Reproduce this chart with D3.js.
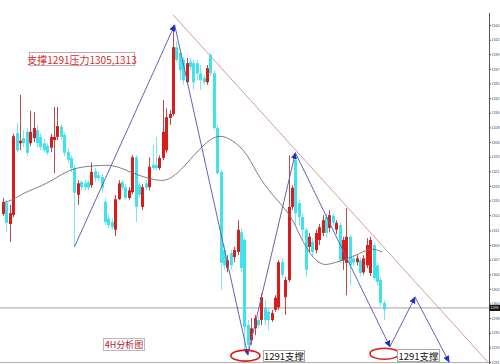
<!DOCTYPE html>
<html>
<head>
<meta charset="utf-8">
<script src="https://cdn.jsdelivr.net/npm/d3@7"></script>
<style>
body { margin: 0; background: #fff; }
svg { display: block; }
</style>
</head>
<body>
<div id="chart"></div>
<script>
// 4H candles
var opens = [1314.3,1316.0,1312.7,1314.1,1327.0,1325.4,1326.2,1327.2,1325.4,1326.2,1327.5,1326.4,1325.4,1325.0,1324.7,1325.9,1326.4,1328.0,1326.7,1324.0,
	1323.1,1321.5,1317.3,1319.3,1319.1,1319.3,1318.8,1321.0,1320.4,1320.1,1316.2,1313.6,1313.0,1311.8,1316.6,1319.3,1318.5,1316.8,1317.7,1323.2,
	1318.8,1315.4,1319.1,1318.5,1322.0,1322.0,1321.5,1323.1,1324.3,1329.4,1330.0,1340.5,1339.6,1338.5,1335.0,1338.2,1338.0,1338.0,1336.4,1335.7,
	1335.0,1339.3,1336.4,1327.8,1320.9,1308.6,1305.8,1308.1,1307.5,1308.3,1311.4,1310.2,1296.8,1294.4,1296.3,1297.6,1297.6,1299.6,1298.9,1297.6,
	1299.2,1299.6,1306.7,1301.2,1303.9,1315.4,1322.8,1316.0,1313.8,1311.8,1309.1,1309.9,1308.6,1310.2,1311.3,1313.8,1312.1,1314.0,1311.8,1312.5,
	1307.0,1306.6,1310.7,1307.3,1306.7,1307.0,1305.1,1306.2,1305.0,1309.4,1306.2,1303.9,1300.3];
var highs = [1316.8,1316.5,1315.7,1326.9,1328.6,1333.0,1327.5,1327.8,1330.5,1330.3,1328.3,1327.0,1326.2,1325.4,1326.9,1331.1,1331.1,1328.4,1327.2,1324.7,
	1323.5,1322.0,1319.6,1319.6,1319.6,1319.6,1322.4,1321.5,1320.9,1320.6,1316.8,1314.3,1313.6,1317.3,1319.6,1319.6,1319.0,1318.5,1323.5,1323.5,
	1319.3,1319.0,1319.6,1323.2,1325.1,1326.4,1323.5,1332.2,1330.9,1330.6,1344.0,1341.5,1340.1,1339.0,1338.8,1338.8,1338.5,1338.5,1337.7,1336.1,
	1337.7,1339.6,1336.9,1328.3,1321.2,1309.4,1307.8,1308.6,1309.1,1313.3,1312.1,1310.5,1297.6,1297.9,1298.4,1298.2,1301.8,1300.7,1299.5,1299.2,
	1301.5,1307.0,1307.3,1304.4,1323.5,1318.8,1323.9,1316.5,1314.4,1312.1,1311.3,1310.5,1311.8,1312.7,1314.1,1314.4,1314.9,1314.4,1313.3,1313.0,
	1310.7,1315.2,1311.0,1307.8,1307.8,1307.5,1307.8,1310.5,1310.7,1309.7,1306.7,1304.4,1300.7];
var lows = [1314.0,1311.4,1309.9,1313.8,1324.0,1324.3,1324.8,1323.4,1325.0,1325.6,1324.7,1324.3,1323.9,1323.5,1324.0,1320.7,1325.9,1325.9,1323.4,1322.3,
	1320.9,1309.1,1315.7,1318.0,1318.0,1318.0,1318.4,1319.3,1319.5,1317.7,1312.5,1312.1,1311.8,1310.8,1316.5,1318.0,1316.5,1316.5,1317.4,1313.0,
	1316.8,1314.9,1318.0,1318.0,1321.2,1321.2,1321.2,1322.8,1323.9,1328.3,1329.7,1338.2,1335.3,1334.6,1334.6,1336.9,1333.8,1335.3,1333.8,1334.6,
	1334.6,1336.0,1327.5,1320.4,1302.3,1305.5,1305.1,1305.5,1306.7,1307.8,1305.1,1292.9,1292.1,1293.7,1295.2,1296.3,1296.8,1296.8,1296.0,1297.3,
	1298.9,1299.2,1304.2,1298.4,1303.6,1314.9,1312.5,1312.5,1310.2,1304.4,1308.3,1307.7,1308.1,1309.4,1310.8,1310.5,1311.4,1312.5,1311.1,1306.6,
	1305.5,1301.5,1303.1,1306.1,1306.2,1304.5,1304.7,1305.8,1304.5,1303.9,1303.1,1299.8,1297.6];
var closes = [1316.2,1312.9,1314.4,1326.5,1324.3,1325.8,1325.4,1323.9,1327.2,1327.8,1325.4,1324.8,1324.3,1323.9,1326.4,1326.4,1328.1,1326.4,1323.9,1322.8,
	1321.5,1317.6,1319.1,1318.5,1318.5,1318.4,1320.9,1319.9,1319.9,1318.4,1313.0,1312.5,1312.2,1316.6,1319.1,1318.4,1316.8,1318.0,1323.2,1315.4,
	1317.3,1318.5,1318.4,1321.7,1321.5,1321.5,1323.1,1327.2,1329.5,1330.0,1340.5,1338.5,1336.9,1335.3,1338.0,1337.4,1335.0,1336.4,1335.3,1335.0,
	1337.2,1336.4,1327.8,1320.7,1306.6,1306.2,1307.0,1306.2,1308.6,1311.8,1305.8,1296.5,1293.7,1296.3,1297.9,1296.8,1301.2,1297.6,1297.6,1298.7,
	1301.1,1306.7,1304.7,1303.9,1315.4,1318.4,1314.4,1313.8,1311.8,1305.5,1310.7,1308.3,1311.3,1312.2,1313.3,1311.3,1314.1,1312.9,1312.9,1307.0,
	1310.2,1310.7,1306.2,1306.6,1307.3,1305.0,1307.3,1309.4,1310.2,1304.2,1303.6,1300.3,1299.2];

// moving average, sampled along the grey curve: [bar index, price]
var maPoints = [[0,1316.0],[3,1316.5],[6,1317.6],[12,1318.8],[16,1320.1],[20.6,1321.5],[25.6,1321.8],[30.6,1322.0],[33.5,1321.8],
	[38.2,1320.7],[42.4,1319.9],[46.2,1319.5],[48.5,1319.6],[52,1320.9],[58,1324.7],[63,1327.0],[67.6,1325.9],[71.8,1323.9],
	[75.6,1319.6],[80.6,1316.5],[85,1313.8],[87.4,1310.7],[89.4,1308.9],[91.2,1307.3],[94.1,1306.2],[96.2,1306.4],[102,1307.3],
	[105.9,1308.4],[108.8,1308.9],[111.5,1308.3]];

// wave path drawn by hand on the chart: [bar index, price]
var wavePoints = [[21,1309.1],[50.5,1344.0],[72,1292.1],[86,1323.9],[113.8,1293.4],[121.2,1301.2],[131.2,1291.0]];
// falling resistance line
var trendLine = [[50,1345.6],[142.6,1291.0]];
// support ellipses [bar index, price]
var ellipses = [[71.3,1292.0],[112.2,1292.3]];

var lastPrice = 1299.5;
var tickValues = [1344.0,1341.7,1339.4,1337.1,1334.8,1332.5,1330.2,1327.9,1325.6,1323.3,1321.0,1318.7,1316.4,1314.1,
	1311.7,1309.4,1307.1,1304.8,1302.5,1300.2,1297.9,1295.6,1293.3,1291.0];
var tickLabels = ["1344","1342","1339","1337","1335","1332","1330","1328","1326","1323","1321","1318","1316","1314",
	"1311","1309","1307","1304","1302","1300","1298","1295","1293","1291"];

var width = 500, height = 364, axisX = 489;

var svg = d3.select("#chart").append("svg")
	.attr("width", width)
	.attr("height", height);

var x = d3.scaleLinear().domain([0, 112]).range([3, 383.8]);
var y = d3.scaleLinear().domain([1291, 1344]).range([362, 25]);

var defs = svg.append("defs");
defs.append("clipPath").attr("id", "plot")
	.append("rect").attr("x", 0).attr("y", 0).attr("width", axisX).attr("height", 363);
defs.append("marker")
	.attr("id", "arrow")
	.attr("viewBox", "0 0 8 8")
	.attr("refX", 7).attr("refY", 4)
	.attr("markerWidth", 7).attr("markerHeight", 7)
	.attr("markerUnits", "userSpaceOnUse")
	.attr("orient", "auto")
	.append("path")
	.attr("d", "M0,0.5L8,4L0,7.5Z")
	.attr("fill", "#1830d0");

var plot = svg.append("g").attr("clip-path", "url(#plot)");

// last price line and bottom border
plot.append("line")
	.attr("x1", 0).attr("x2", axisX)
	.attr("y1", y(lastPrice)).attr("y2", y(lastPrice))
	.attr("stroke", "#a0a0a0").attr("stroke-width", 1);
svg.append("line")
	.attr("x1", 0).attr("x2", axisX)
	.attr("y1", 362.5).attr("y2", 362.5)
	.attr("stroke", "#b0b0b0").attr("stroke-width", 1);

var bars = d3.range(opens.length).map(function(i) {
	return {i: i, o: opens[i], h: highs[i], l: lows[i], c: closes[i]};
});
var red = "#dc1c1c", cyan = "#3fe3ee";

var candle = plot.append("g").selectAll("g")
	.data(bars)
	.enter().append("g");

candle.append("line")
	.attr("x1", function(d) { return Math.round(x(d.i)) + 0.5; })
	.attr("x2", function(d) { return Math.round(x(d.i)) + 0.5; })
	.attr("y1", function(d) { return y(d.h); })
	.attr("y2", function(d) { return y(d.l); })
	.attr("stroke", function(d) { return d.c > d.o ? "#b84a4a" : "#7fe6ee"; })
	.attr("stroke-width", 1);

candle.append("rect")
	.attr("x", function(d) { return Math.round(x(d.i)) - 1; })
	.attr("width", 3)
	.attr("y", function(d) { return y(Math.max(d.o, d.c)); })
	.attr("height", function(d) { return Math.max(1, Math.abs(y(d.o) - y(d.c))); })
	.attr("fill", function(d) { return d.c > d.o ? red : cyan; });

// moving average
plot.append("path")
	.datum(maPoints)
	.attr("fill", "none")
	.attr("stroke", "#6e6e6e")
	.attr("stroke-width", 0.9)
	.attr("d", d3.line()
		.x(function(d) { return x(d[0]); })
		.y(function(d) { return y(d[1]); })
		.curve(d3.curveBasis));

// resistance line
plot.append("line")
	.attr("x1", x(trendLine[0][0])).attr("y1", y(trendLine[0][1]))
	.attr("x2", x(trendLine[1][0])).attr("y2", y(trendLine[1][1]))
	.attr("stroke", "#d89a9a").attr("stroke-width", 1);

// wave segments with arrow heads
var segs = d3.pairs(wavePoints);
svg.append("g").selectAll("line")
	.data(segs)
	.enter().append("line")
	.attr("x1", function(d) { return x(d[0][0]); })
	.attr("y1", function(d) { return y(d[0][1]); })
	.attr("x2", function(d) { return x(d[1][0]); })
	.attr("y2", function(d) { return y(d[1][1]); })
	.attr("stroke", "#6464b4")
	.attr("stroke-width", 1)
	.attr("marker-end", "url(#arrow)");

// support ellipses
svg.append("g").selectAll("ellipse")
	.data(ellipses)
	.enter().append("ellipse")
	.attr("cx", function(d) { return x(d[0]); })
	.attr("cy", function(d) { return y(d[1]); })
	.attr("rx", 14.5).attr("ry", 5.5)
	.attr("fill", "none")
	.attr("stroke", "#e01818")
	.attr("stroke-width", 1.6);

// text boxes
function label(px, py, w, h, txt, size, color, border, bg) {
	var g = svg.append("g");
	g.append("rect")
		.attr("x", px + 0.5).attr("y", py + 0.5)
		.attr("width", w).attr("height", h)
		.attr("fill", bg).attr("stroke", border).attr("stroke-width", 1);
	g.append("text")
		.attr("x", px + w / 2 + 0.5).attr("y", py + h / 2 + 0.5)
		.attr("text-anchor", "middle")
		.attr("dominant-baseline", "central")
		.attr("font-family", "'Noto Sans CJK SC', 'DejaVu Sans', sans-serif")
		.attr("font-size", size)
		.attr("fill", color)
		.text(txt);
}
label(29, 52, 105, 13, "支撑1291压力1305,1313", 10, "#d42a2a", "#c8a8a8", "none");
label(103, 338, 41, 12, "4H分析图", 9, "#b01830", "#b8b8b8", "#fff");
label(263, 350, 41, 11, "1291支撑", 9.5, "#111", "#a8a8a8", "#fff");
label(397, 349, 42, 12, "1291支撑", 9.5, "#111", "#a8a8a8", "#fff");

// price axis on the right
var axis = svg.append("g")
	.attr("transform", "translate(" + axisX + ",0)")
	.call(d3.axisRight(y)
		.tickValues(tickValues)
		.tickFormat(function(d, i) { return tickLabels[i]; })
		.tickSize(2)
		.tickPadding(0.5));
axis.select(".domain").remove();
axis.selectAll("line").attr("stroke", "#555");
axis.selectAll("text")
	.attr("font-family", "'Liberation Sans', sans-serif")
	.attr("font-size", 3.6)
	.attr("fill", "#444");
svg.append("line")
	.attr("x1", axisX + 0.5).attr("x2", axisX + 0.5)
	.attr("y1", 13).attr("y2", height)
	.attr("stroke", "#555").attr("stroke-width", 1);

// last price tag
svg.append("rect")
	.attr("x", axisX + 0.5).attr("y", y(lastPrice) - 3)
	.attr("width", width - axisX).attr("height", 6)
	.attr("fill", "#111");
svg.append("text")
	.attr("x", axisX + 1.5).attr("y", y(lastPrice) + 1.4)
	.attr("font-family", "'Liberation Sans', sans-serif")
	.attr("font-size", 3.6)
	.attr("fill", "#fff")
	.text(Math.floor(lastPrice));
</script>
</body>
</html>
